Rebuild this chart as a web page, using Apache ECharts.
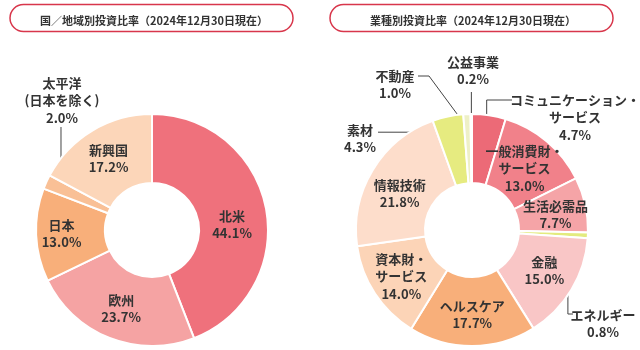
<!DOCTYPE html>
<html><head><meta charset="utf-8">
<script src="https://cdn.jsdelivr.net/npm/echarts@6/dist/echarts.min.js"></script>
<style>html,body{margin:0;padding:0;background:#fff}#c{width:640px;height:350px}</style>
</head><body><div id="c"></div>
<script>
// ---- data ----
const regionTitle = '国／地域別投資比率（2024年12月30日現在）';
const regionNames = ['北米', '欧州', '日本', '太平洋\n(日本を除く)', '新興国'];
const regionValues = [44.1, 23.7, 13.0, 2.0, 17.2];
const regionColors = ['#EF717C', '#F5A3A3', '#F8AF7A', '#F9C096', '#FCD6B9'];

const sectorTitle = '業種別投資比率（2024年12月30日現在）';
const sectorNames = ['コミュニケーション・\nサービス', '一般消費財・\nサービス', '生活必需品', 'エネルギー', '金融', 'ヘルスケア', '資本財・\nサービス', '情報技術', '素材', '不動産', '公益事業'];
const sectorValues = [4.7, 13.0, 7.7, 0.8, 15.0, 17.7, 14.0, 21.8, 4.3, 1.0, 0.2];
const sectorColors = ['#EC6A77', '#F1818A', '#F5A4A7', '#E3EB7E', '#F9C6C6', '#F8AF7A', '#FCD4B7', '#FDDDCB', '#E6EB80', '#EEF0C6', '#E2E8D6'];

// ---- layout ----
const FONT = '"Noto Sans CJK JP", "Noto Sans", sans-serif';
const R0 = 47, R1 = 116;
const leftC = [152, 230], rightC = [472, 230];

function midPoint(values, idx, center, r) {
  const total = values.reduce((a, b) => a + b, 0);
  let cum = 0;
  for (let i = 0; i < idx; i++) cum += values[i];
  const a = (cum + values[idx] / 2) / total * 2 * Math.PI;
  return [center[0] + r * Math.sin(a), center[1] - r * Math.cos(a)];
}

const leftOutside = {
  3: { r: 100, x: 62, y: 74, line: p => [p, [p[0], 127]] }
};
const rightOutside = {
  0: { r: 100, x: 575, y: 91, line: p => [p, [p[0], 100], [512, 100]] },
  10: { r: 100, x: 473, y: 53, line: p => [p, [p[0], 92]] },
  9: { r: 102, x: 395, y: 67, line: p => [p, [429, 76], [418, 76]] },
  8: { r: 100, x: 360, y: 121, line: p => [p, [378, p[1]]] },
  3: { r: 96, x: 603, y: 306, line: p => [p, [p[0], 314], [573, 314]] }
};
// small nudges of inside labels
const leftNudge = { 0: [-3, 10], 2: [-6, 0], 4: [0, 1] };
const rightNudge = { 1: [-2, 3], 2: [1, 3], 4: [0, -3], 7: [0, 7] };

function makeSeries(names, values, colors, center, outside, nudge) {
  return {
    type: 'pie', center: center, radius: [R0, R1], startAngle: 90, clockwise: true,
    avoidLabelOverlap: false, silent: true, animation: false,
    itemStyle: { borderColor: '#fff', borderWidth: 2 },
    label: {
      show: true, position: 'inside',
      formatter: p => p.name + '\n' + p.value.toFixed(1) + '%',
      color: '#333', fontFamily: FONT, fontSize: 13, fontWeight: 'bold', lineHeight: 17.5, align: 'center'
    },
    labelLine: { show: false },
    data: names.map((n, i) => {
      const d = { name: n, value: values[i], itemStyle: { color: colors[i] } };
      if (outside[i]) {
        d.label = { position: 'outside' };
        d.labelLine = { show: true, smooth: false, lineStyle: { color: '#444', width: 1 } };
      }
      return d;
    }),
    labelLayout: p => {
      const o = outside[p.dataIndex];
      if (!o) {
        const n = nudge[p.dataIndex];
        return n ? { dx: n[0], dy: n[1] } : {};
      }
      const s = midPoint(values, p.dataIndex, center, o.r);
      return { x: o.x, y: o.y, align: 'center', verticalAlign: 'top', labelLinePoints: o.line(s) };
    }
  };
}

function titleBox(x, w) {
  return {
    type: 'rect', shape: { x: x, y: 4.5, width: w, height: 27, r: 13.5 },
    style: { fill: '#fff', stroke: '#D8364B', lineWidth: 1.5 }, z: 0
  };
}

const chart = echarts.init(document.getElementById('c'), null, { renderer: 'canvas' });
chart.setOption({
  animation: false,
  backgroundColor: '#fff',
  graphic: [titleBox(10, 283), titleBox(330, 283)],
  title: [
    { text: regionTitle, left: 149, top: 10, textAlign: 'center', textStyle: { fontFamily: FONT, fontSize: 11, fontWeight: 'bold', color: '#333' } },
    { text: sectorTitle, left: 468, top: 10, textAlign: 'center', textStyle: { fontFamily: FONT, fontSize: 11, fontWeight: 'bold', color: '#333' } }
  ],
  series: [
    makeSeries(regionNames, regionValues, regionColors, leftC, leftOutside, leftNudge),
    makeSeries(sectorNames, sectorValues, sectorColors, rightC, rightOutside, rightNudge)
  ]
});
</script>
</body></html>
